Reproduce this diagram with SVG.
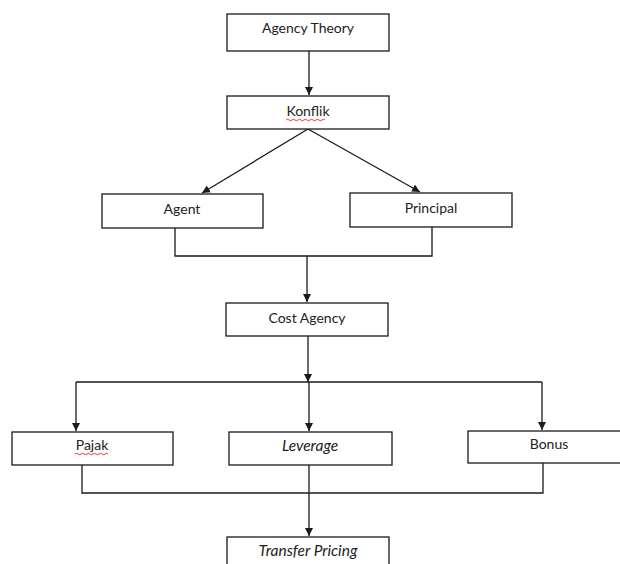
<svg xmlns="http://www.w3.org/2000/svg" width="620" height="564" viewBox="0 0 620 564">
<defs>
<style>
.box{fill:#fff;stroke:#1a1a1a;stroke-width:1.3}
.t{font-family:Lato,"Open Sans","Liberation Sans",sans-serif;font-size:14px;fill:#222;text-anchor:middle}
.i{font-style:italic;font-size:15.5px}
.c{fill:none;stroke:#1a1a1a;stroke-width:1.3}
.sq{fill:none;stroke:#d22;stroke-width:0.9}
</style>
<marker id="ah" viewBox="0 0 10 10" refX="10" refY="5" markerWidth="8" markerHeight="8" markerUnits="userSpaceOnUse" orient="auto">
<path d="M0,0 L10,5 L0,10 Z" fill="#1a1a1a"/>
</marker>
</defs>
<rect width="620" height="564" fill="#fff"/>
<g id="connectors">
<line class="c" x1="309" y1="51" x2="309" y2="95" marker-end="url(#ah)"/>
<line class="c" x1="308" y1="129" x2="202" y2="193" marker-end="url(#ah)"/>
<line class="c" x1="308" y1="129" x2="420" y2="192" marker-end="url(#ah)"/>
<polyline class="c" points="175,228 175,256 432,256 432,227"/>
<line class="c" x1="307" y1="256" x2="307" y2="302" marker-end="url(#ah)"/>
<line class="c" x1="308" y1="336" x2="308" y2="382" marker-end="url(#ah)"/>
<line class="c" x1="76" y1="382" x2="542" y2="382"/>
<line class="c" x1="76" y1="382" x2="76" y2="431" marker-end="url(#ah)"/>
<line class="c" x1="309" y1="382" x2="309" y2="431" marker-end="url(#ah)"/>
<line class="c" x1="542" y1="382" x2="542" y2="430" marker-end="url(#ah)"/>
<polyline class="c" points="82,465 82,493 543,493 543,463"/>
<line class="c" x1="309" y1="465" x2="309" y2="536" marker-end="url(#ah)"/>
</g>
<g id="agency-theory">
<rect class="box" x="227" y="14" width="162" height="37"/>
<text class="t" x="308" y="33">Agency Theory</text>
</g>
<g id="konflik">
<rect class="box" x="227" y="96" width="162" height="33"/>
<text class="t" x="308" y="116">Konflik</text>
<path class="sq" d="M286,120 q1.5,-1.5 3,0 t3,0 t3,0 t3,0 t3,0 t3,0 t3,0 t3,0 t3,0 t3,0 t3,0 t3,0 t3,0"/>
</g>
<g id="agent">
<rect class="box" x="102" y="194" width="161" height="34"/>
<text class="t" x="182" y="214">Agent</text>
</g>
<g id="principal">
<rect class="box" x="350" y="193" width="162" height="34"/>
<text class="t" x="431" y="213">Principal</text>
</g>
<g id="cost-agency">
<rect class="box" x="226" y="303" width="162" height="33"/>
<text class="t" x="307" y="323">Cost Agency</text>
</g>
<g id="pajak">
<rect class="box" x="12" y="432" width="161" height="33"/>
<text class="t" x="92" y="450">Pajak</text>
<path class="sq" d="M75,454 q1.5,-1.5 3,0 t3,0 t3,0 t3,0 t3,0 t3,0 t3,0 t3,0 t3,0 t3,0 t3,0"/>
</g>
<g id="leverage">
<rect class="box" x="229" y="432" width="163" height="33"/>
<text class="t i" x="310" y="451">Leverage</text>
</g>
<g id="bonus">
<rect class="box" x="468" y="431" width="153" height="32"/>
<text class="t" x="549" y="449">Bonus</text>
</g>
<g id="transfer-pricing">
<rect class="box" x="227" y="537" width="162" height="36"/>
<text class="t i" x="308" y="556">Transfer Pricing</text>
</g>
</svg>
